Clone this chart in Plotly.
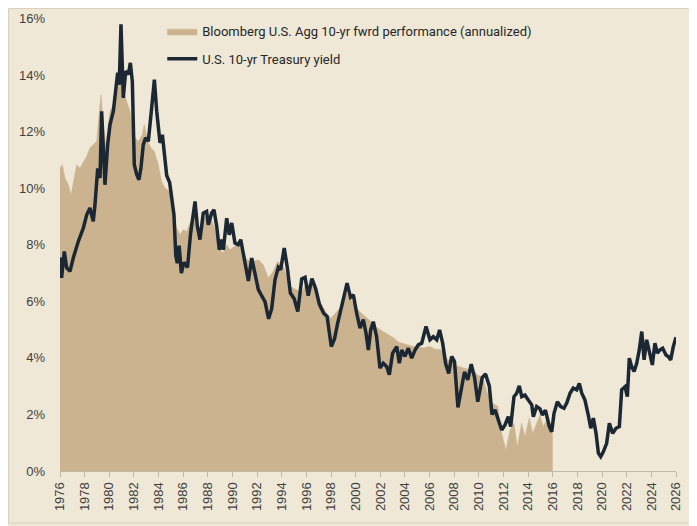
import plotly.graph_objects as go

# U.S. 10-yr Treasury yield (%)
yield_dates = [
    1976.00, 1976.13, 1976.35, 1976.54, 1976.81, 1977.08, 1977.49, 1977.90, 1978.17, 1978.43,
    1978.70, 1978.84, 1979.06, 1979.25, 1979.38, 1979.52, 1979.65, 1979.87, 1980.06, 1980.33,
    1980.52, 1980.68, 1980.81, 1980.95, 1981.14, 1981.33, 1981.55, 1981.71, 1981.87, 1982.03,
    1982.23, 1982.41, 1982.57, 1982.76, 1982.95, 1983.17, 1983.44, 1983.66, 1983.85, 1984.12,
    1984.31, 1984.47, 1984.66, 1984.90, 1985.10, 1985.25, 1985.40, 1985.52, 1985.67, 1985.85,
    1986.05, 1986.35, 1986.60, 1986.96, 1987.15, 1987.36, 1987.63, 1987.90, 1988.04, 1988.31,
    1988.50, 1988.72, 1988.93, 1989.12, 1989.26, 1989.53, 1989.74, 1989.94, 1990.20, 1990.47,
    1990.67, 1990.94, 1991.29, 1991.56, 1991.85, 1992.10, 1992.40, 1992.64, 1992.93, 1993.18,
    1993.45, 1993.72, 1993.91, 1994.20, 1994.45, 1994.70, 1995.00, 1995.30, 1995.62, 1995.89,
    1996.15, 1996.45, 1996.75, 1997.05, 1997.40, 1997.68, 1998.02, 1998.28, 1998.55, 1998.90,
    1999.30, 1999.58, 1999.81, 2000.08, 2000.35, 2000.62, 2000.84, 2001.03, 2001.22, 2001.43,
    2001.70, 2001.97, 2002.24, 2002.52, 2002.73, 2003.00, 2003.33, 2003.54, 2003.74, 2004.00,
    2004.27, 2004.55, 2004.82, 2005.08, 2005.36, 2005.71, 2006.03, 2006.30, 2006.58, 2006.81,
    2007.06, 2007.30, 2007.55, 2007.79, 2008.02, 2008.30, 2008.56, 2008.83, 2009.10, 2009.38,
    2009.65, 2009.91, 2010.27, 2010.54, 2010.85, 2011.06, 2011.31, 2011.58, 2011.85, 2012.12,
    2012.39, 2012.58, 2012.85, 2013.07, 2013.28, 2013.48, 2013.74, 2014.01, 2014.29, 2014.42,
    2014.69, 2014.96, 2015.15, 2015.40, 2015.72, 2015.91, 2016.10, 2016.37, 2016.64, 2016.91,
    2017.13, 2017.40, 2017.66, 2017.94, 2018.15, 2018.35, 2018.61, 2018.88, 2019.08, 2019.29,
    2019.51, 2019.70, 2019.89, 2020.10, 2020.37, 2020.59, 2020.86, 2021.13, 2021.40, 2021.59,
    2021.86, 2022.05, 2022.21, 2022.40, 2022.60, 2022.81, 2023.02, 2023.22, 2023.41, 2023.62,
    2023.83, 2024.08, 2024.29, 2024.48, 2024.70, 2024.92, 2025.19, 2025.37, 2025.57, 2025.78,
    2026.00,
]
yield_values = [
    7.55, 6.83, 7.76, 7.19, 7.06, 7.54, 8.12, 8.60, 9.06, 9.30,
    8.83, 9.42, 10.70, 10.36, 12.72, 11.42, 10.12, 11.54, 12.25, 12.72,
    13.43, 14.08, 13.66, 15.79, 13.19, 14.14, 14.02, 14.43, 13.78, 10.83,
    10.48, 10.30, 10.71, 11.54, 11.78, 11.66, 12.84, 13.84, 12.72, 11.60,
    11.89, 11.19, 10.45, 10.20, 9.40, 9.06, 7.60, 7.35, 7.97, 7.00,
    7.38, 7.20, 8.40, 9.53, 8.65, 8.18, 9.12, 9.18, 8.71, 9.12,
    9.24, 8.65, 7.82, 8.18, 7.82, 8.94, 8.35, 8.77, 8.06, 8.00,
    8.18, 7.47, 6.72, 7.53, 7.00, 6.41, 6.17, 5.99, 5.38, 5.73,
    6.76, 7.20, 7.12, 7.88, 7.20, 6.29, 6.10, 5.64, 6.79, 6.85,
    6.20, 6.80, 6.45, 5.90, 5.58, 5.46, 4.40, 4.67, 5.25, 5.94,
    6.64, 6.14, 6.23, 5.58, 5.05, 5.35, 4.87, 4.28, 4.99, 5.28,
    4.75, 3.64, 3.81, 3.69, 3.40, 4.17, 4.40, 3.81, 4.28, 4.05,
    4.34, 3.99, 4.28, 4.46, 4.52, 5.11, 4.64, 4.75, 4.64, 4.99,
    4.52, 3.80, 3.45, 4.05, 3.87, 2.25, 2.95, 3.50, 3.22, 3.78,
    3.30, 2.45, 3.30, 3.43, 3.00, 2.00, 2.16, 1.81, 1.45, 1.63,
    1.92, 1.57, 2.63, 2.75, 3.01, 2.63, 2.69, 2.51, 2.34, 1.92,
    2.28, 2.20, 1.98, 2.15, 1.57, 1.39, 2.04, 2.45, 2.28, 2.22,
    2.40, 2.75, 2.93, 2.87, 3.10, 2.75, 2.51, 1.98, 1.51, 1.87,
    1.33, 0.63, 0.51, 0.68, 0.98, 1.69, 1.33, 1.51, 1.57, 2.87,
    2.98, 2.63, 3.99, 3.69, 3.52, 3.81, 4.28, 4.93, 3.93, 4.64,
    4.17, 3.75, 4.52, 4.17, 4.28, 4.34, 4.10, 4.05, 3.93, 4.40,
    4.73,
]

# Bloomberg U.S. Agg 10-yr forward performance (annualized, %)
agg_dates = [
    1976.00, 1976.20, 1976.40, 1976.68, 1976.90, 1977.08, 1977.35, 1977.62, 1977.90, 1978.17,
    1978.43, 1978.70, 1978.98, 1979.17, 1979.33, 1979.52, 1979.70, 1979.87, 1980.06, 1980.33,
    1980.60, 1980.87, 1981.14, 1981.41, 1981.68, 1982.09, 1982.36, 1982.68, 1982.84, 1983.12,
    1983.39, 1983.66, 1983.98, 1984.25, 1984.52, 1984.93, 1985.20, 1985.47, 1985.74, 1986.00,
    1986.28, 1986.55, 1986.96, 1987.36, 1987.63, 1987.90, 1988.30, 1988.60, 1988.90, 1989.20,
    1989.53, 1989.80, 1990.34, 1990.75, 1991.15, 1991.69, 1992.10, 1992.50, 1992.91, 1993.31,
    1993.64, 1994.13, 1994.67, 1995.21, 1995.62, 1996.00, 1996.56, 1996.97, 1997.24, 1997.60,
    1998.00, 1998.40, 1998.80, 1999.20, 1999.60, 2000.00, 2000.40, 2000.80, 2001.20, 2001.60,
    2002.00, 2002.40, 2002.75, 2003.10, 2003.50, 2003.90, 2004.30, 2004.70, 2005.10, 2005.50,
    2006.00, 2006.50, 2006.90, 2007.20, 2007.60, 2007.90, 2008.30, 2008.70, 2009.10, 2009.50,
    2009.90, 2010.30, 2010.70, 2011.10, 2011.55, 2011.71, 2012.20, 2012.53, 2012.85, 2013.12,
    2013.47, 2013.74, 2014.09, 2014.37, 2014.69, 2014.96, 2015.23, 2015.50, 2015.77, 2015.99,
]
agg_values = [
    10.71, 10.83, 10.36, 10.12, 9.77, 10.24, 10.83, 10.71, 10.95, 11.13,
    11.42, 11.54, 11.66, 12.60, 13.31, 12.25, 11.54, 12.13, 12.72, 12.96,
    13.43, 13.78, 13.43, 13.07, 12.72, 11.78, 11.66, 11.89, 12.25, 11.66,
    11.42, 11.30, 10.83, 10.24, 10.00, 9.89, 9.06, 8.59, 8.35, 8.53,
    8.47, 8.77, 9.00, 8.50, 8.90, 9.00, 8.90, 8.50, 7.90, 7.70,
    8.00, 7.82, 8.00, 7.88, 7.47, 7.41, 7.47, 7.29, 6.82, 7.06,
    7.41, 7.23, 6.52, 6.41, 6.29, 6.64, 6.52, 6.17, 5.88, 5.60,
    5.40, 5.60, 5.80, 6.30, 6.10, 5.80, 5.60, 5.45, 5.30, 5.10,
    5.00, 4.90, 4.80, 4.70, 4.55, 4.50, 4.45, 4.40, 4.40, 4.35,
    4.40, 4.30, 4.30, 4.05, 3.90, 3.80, 3.70, 3.65, 3.60, 3.55,
    3.40, 3.30, 2.75, 2.40, 2.28, 1.57, 0.74, 1.45, 1.69, 0.86,
    1.69, 1.21, 1.87, 1.33, 1.69, 1.98, 1.57, 1.81, 1.69, 1.63,
]

x_tick_years = list(range(1976, 2027, 2))
y_tick_values = [0, 2, 4, 6, 8, 10, 12, 14, 16]

BG = "#efe8d7"
TAN = "#cbb38f"
NAVY = "#1b2833"

fig = go.Figure()
fig.add_trace(go.Scatter(
    x=agg_dates, y=agg_values, mode="lines", fill="tozeroy",
    fillcolor=TAN, line=dict(color=TAN, width=0.5),
    name="Bloomberg U.S. Agg 10-yr fwrd performance (annualized)",
    legend="legend",
))
fig.add_trace(go.Scatter(
    x=yield_dates, y=yield_values, mode="lines",
    line=dict(color=NAVY, width=3.5),
    name="U.S. 10-yr Treasury yield",
    legend="legend2",
))

legend_font = dict(family="Roboto, sans-serif", size=13, color="#262626")

fig.update_layout(
    width=689, height=518,
    margin=dict(l=52, r=21, t=2, b=55),
    paper_bgcolor=BG, plot_bgcolor=BG,
    showlegend=True,
    legend=dict(x=0.166, y=0.954, xanchor="left", yanchor="middle", bgcolor="rgba(0,0,0,0)", font=legend_font),
    legend2=dict(x=0.166, y=0.894, xanchor="left", yanchor="middle", bgcolor="rgba(0,0,0,0)", font=legend_font),
    xaxis=dict(
        range=[1976, 2026], tickmode="array", tickvals=x_tick_years,
        ticktext=[str(v) for v in x_tick_years], tickangle=-90,
        ticks="outside", ticklen=5, tickcolor="#bfb9aa", showgrid=False,
        showline=True, linecolor="#bfb9aa", linewidth=1, zeroline=False,
        tickfont=dict(family="Liberation Sans, Arial, sans-serif", size=13, color="#404040"),
    ),
    yaxis=dict(
        range=[0, 16.3], tickmode="array", tickvals=y_tick_values,
        ticktext=[f"{v}%" for v in y_tick_values],
        showgrid=False, zeroline=False, showline=False, ticks="",
        ticklabelstandoff=14,
        tickfont=dict(family="Liberation Sans, Arial, sans-serif", size=13, color="#404040"),
    ),
    shapes=[dict(
        type="rect", xref="paper", yref="paper",
        x0=-0.0836, x1=1.026, y0=-0.1128, y1=1.0033,
        line=dict(color="#d8d0bd", width=1), fillcolor="rgba(0,0,0,0)", layer="below",
    )],
)

fig.write_html("out.html")
